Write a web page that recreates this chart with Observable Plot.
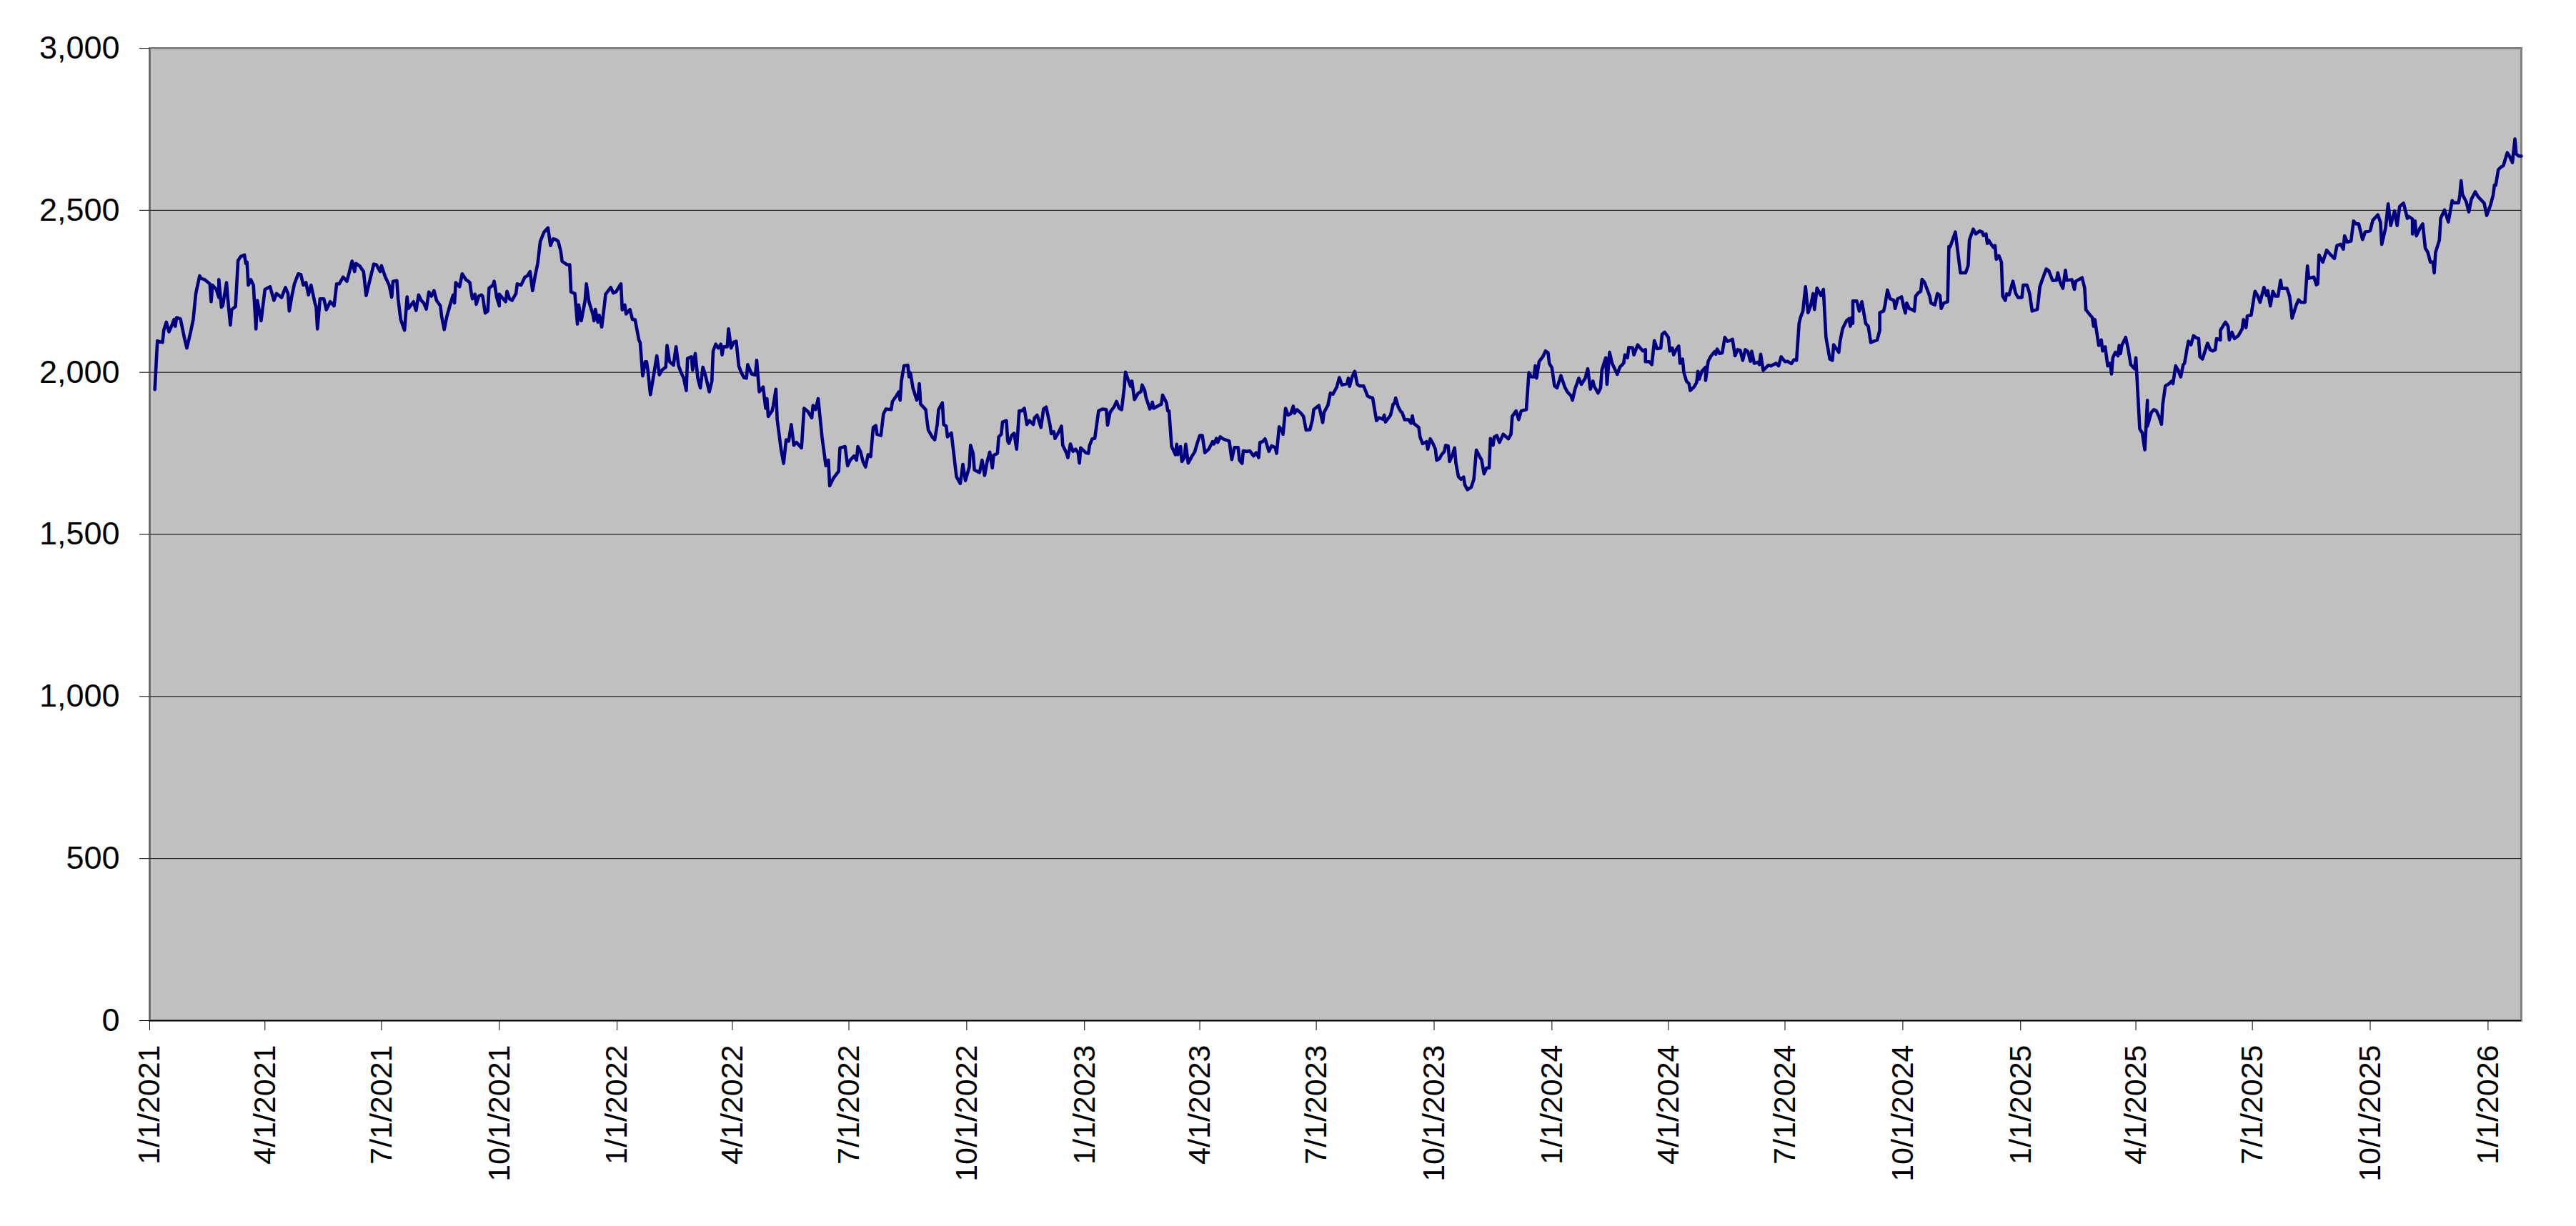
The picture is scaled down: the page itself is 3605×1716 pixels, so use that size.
<!DOCTYPE html>
<html>
<head>
<meta charset="utf-8">
<script src="https://cdn.jsdelivr.net/npm/d3@7"></script>
<script src="https://cdn.jsdelivr.net/npm/@observablehq/plot@0.6"></script>
<style>
  html, body { margin: 0; padding: 0; background: #ffffff; }
  #chart { width: 3605px; height: 1716px; }
</style>
</head>
<body>
<div id="chart"></div>
<script>
// Series: [days since 1/1/2021, value], one array per year
const s2021 = [[4,1947],[6,2097],[10,2092],[11,2130],[13,2155],[15,2125],[17,2142],[19,2163],[20,2142],[21,2169],[24,2165],[27,2108],[29,2075],[32,2125],[34,2163],[36,2243],[39,2298],[40,2290],[43,2286],[47,2273],[48,2218],[49,2269],[52,2256],[54,2231],[54,2286],[56,2201],[57,2205],[60,2277],[61,2227],[63,2146],[64,2193],[67,2203],[69,2345],[71,2357],[74,2362],[75,2336],[76,2340],[77,2269],[79,2286],[81,2269],[83,2134],[84,2222],[87,2159],[90,2256],[94,2264],[97,2222],[99,2243],[103,2231],[106,2262],[108,2243],[109,2189],[111,2235],[113,2273],[116,2304],[118,2302],[120,2269],[122,2277],[124,2239],[126,2269],[129,2214],[130,2201],[131,2134],[133,2227],[136,2227],[138,2193],[141,2218],[144,2205],[146,2273],[148,2273],[151,2294],[154,2281],[156,2311],[158,2343],[160,2311],[161,2336],[164,2328],[167,2311],[169,2237],[172,2286],[175,2334],[177,2332],[180,2311],[181,2329],[184,2294],[187,2269],[189,2232],[190,2281],[193,2283],[194,2227],[196,2163],[199,2130],[201,2233],[202,2197],[206,2218],[208,2191],[210,2239],[212,2222],[214,2214],[216,2195],[218,2248],[220,2235],[222,2252],[224,2222],[227,2205],[228,2172],[230,2132],[232,2172],[235,2214],[237,2239],[238,2214],[239,2277],[242,2264],[244,2304],[247,2286],[250,2277],[251,2248],[252,2227],[254,2241],[255,2210],[257,2235],[259,2239],[260,2235],[262,2183],[264,2189],[265,2260],[268,2269],[269,2281],[271,2231],[273,2205],[273,2241],[276,2227],[278,2218],[279,2250],[281,2227],[283,2222],[286,2243],[287,2273],[290,2269],[293,2294],[295,2298],[297,2311],[299,2252],[301,2298],[303,2336],[305,2404],[308,2433],[311,2446],[313,2391],[315,2412],[317,2410],[319,2404],[321,2374],[322,2343],[326,2332],[328,2332],[329,2248],[332,2243],[334,2149],[335,2208],[337,2159],[340,2222],[341,2273],[343,2218],[346,2180],[347,2159],[348,2194],[350,2155],[351,2176],[353,2140],[355,2205],[356,2241],[360,2262],[362,2245],[364,2248]];
const s2022 = [[368,2273],[369,2193],[371,2208],[372,2180],[375,2194],[377,2163],[379,2163],[382,2100],[383,2092],[385,1989],[387,2033],[388,2033],[389,2007],[391,1931],[393,1978],[396,2051],[398,1992],[400,2007],[403,2016],[404,2083],[406,2033],[409,2022],[411,2079],[413,2020],[415,1999],[417,1982],[419,1944],[420,2043],[423,2048],[424,2007],[426,2058],[428,1982],[430,1952],[432,2016],[434,1990],[437,1940],[439,1973],[440,2066],[442,2087],[444,2075],[446,2087],[447,2054],[448,2079],[451,2079],[452,2134],[454,2075],[456,2093],[458,2096],[460,2020],[462,1999],[464,1984],[466,1982],[467,2024],[470,1995],[473,1992],[474,2037],[476,1940],[479,1955],[481,1889],[482,1919],[483,1864],[486,1881],[487,1898],[489,1948],[490,1855],[493,1763],[495,1719],[497,1792],[499,1788],[501,1839],[503,1775],[505,1784],[509,1767],[511,1889],[514,1879],[517,1860],[518,1898],[520,1885],[522,1919],[525,1801],[528,1712],[530,1729],[531,1650],[534,1674],[538,1695],[539,1767],[543,1771],[545,1712],[547,1729],[550,1742],[552,1729],[553,1771],[555,1756],[557,1725],[559,1708],[561,1746],[563,1740],[565,1830],[567,1836],[568,1809],[571,1805],[573,1872],[575,1887],[579,1885],[580,1910],[583,1927],[585,1940],[586,1914],[587,1973],[589,2020],[592,2022],[593,1986],[594,1999],[596,1952],[599,1914],[600,1923],[601,1965],[602,1902],[606,1885],[607,1851],[608,1822],[611,1801],[613,1792],[615,1839],[616,1885],[619,1906],[620,1839],[622,1834],[623,1801],[626,1813],[628,1746],[630,1678],[633,1657],[635,1716],[637,1666],[640,1708],[641,1775],[643,1750],[644,1699],[648,1691],[650,1729],[652,1682],[654,1725],[656,1754],[658,1705],[659,1744],[662,1750],[663,1801],[665,1809],[666,1847],[669,1851],[670,1788],[671,1781],[673,1805],[675,1812],[677,1763],[679,1881],[681,1881],[683,1889],[685,1839],[687,1851],[690,1839],[691,1860],[693,1868],[696,1830],[698,1887],[700,1893],[703,1839],[704,1811],[706,1817],[707,1796],[710,1817],[712,1834],[713,1775],[716,1750],[717,1737],[719,1779],[721,1756],[723,1763],[725,1752],[726,1720],[727,1767]];
const s2023 = [[731,1752],[733,1750],[734,1775],[736,1795],[738,1796],[741,1881],[744,1887],[747,1885],[748,1837],[750,1877],[753,1893],[755,1910],[757,1889],[759,1885],[761,1952],[762,2001],[764,1978],[766,1957],[767,1973],[769,1916],[772,1936],[774,1940],[775,1961],[777,1944],[778,1923],[781,1887],[782,1893],[783,1908],[784,1889],[790,1902],[791,1930],[794,1906],[795,1881],[796,1881],[798,1771],[801,1746],[802,1778],[803,1746],[805,1771],[806,1725],[808,1737],[809,1778],[811,1720],[814,1742],[816,1754],[818,1781],[820,1805],[822,1805],[824,1752],[827,1763],[830,1786],[831,1779],[833,1796],[834,1784],[836,1801],[838,1795],[840,1792],[843,1788],[845,1731],[847,1768],[850,1768],[851,1729],[853,1719],[854,1758],[857,1756],[859,1758],[862,1742],[864,1752],[866,1737],[867,1784],[869,1786],[871,1795],[874,1756],[876,1773],[879,1768],[880,1750],[882,1832],[884,1822],[885,1809],[887,1889],[889,1868],[891,1872],[893,1896],[894,1874],[896,1885],[899,1874],[901,1864],[903,1822],[906,1823],[908,1854],[909,1885],[913,1898],[914,1881],[916,1845],[917,1876],[920,1898],[922,1936],[924,1933],[927,1955],[929,1984],[931,1961],[935,1965],[936,1982],[937,1957],[939,1986],[941,2003],[943,1963],[945,1958],[948,1958],[951,1927],[953,1923],[955,1921],[958,1851],[960,1860],[963,1855],[964,1868],[965,1847],[969,1868],[971,1902],[972,1904],[973,1921],[975,1893],[977,1879],[978,1876],[980,1854],[983,1854],[985,1843],[986,1866],[987,1843],[991,1830],[992,1801],[994,1780],[997,1786],[998,1763],[1000,1795],[1002,1781],[1004,1763],[1005,1729],[1007,1733],[1009,1747],[1011,1756],[1012,1775],[1014,1773],[1015,1725],[1017,1742],[1019,1767],[1020,1720],[1022,1678],[1024,1670],[1026,1677],[1027,1653],[1029,1638],[1032,1646],[1034,1670],[1036,1760],[1039,1737],[1040,1731],[1042,1687],[1044,1705],[1046,1705],[1047,1796],[1049,1775],[1050,1801],[1052,1805],[1054,1784],[1057,1809],[1061,1795],[1063,1809],[1064,1864],[1067,1881],[1069,1854],[1071,1881],[1075,1885],[1077,1999],[1079,1986],[1081,1986],[1082,2020],[1083,1982],[1085,2033],[1088,2049],[1090,2066],[1092,2060],[1093,2027]];
const s2024 = [[1095,2014],[1097,1958],[1099,1952],[1102,1990],[1105,1955],[1107,1940],[1110,1927],[1111,1914],[1113,1948],[1116,1982],[1118,1963],[1121,1982],[1123,2011],[1125,1948],[1127,1973],[1128,1957],[1131,1936],[1133,1952],[1134,2007],[1137,2045],[1138,1963],[1140,2062],[1142,2028],[1146,1994],[1148,2016],[1151,2028],[1152,2054],[1154,2045],[1155,2077],[1158,2076],[1159,2054],[1162,2085],[1164,2075],[1166,2066],[1168,2070],[1168,2033],[1171,2033],[1173,2024],[1175,2098],[1177,2073],[1180,2075],[1181,2117],[1183,2124],[1186,2107],[1187,2066],[1189,2075],[1190,2054],[1192,2070],[1194,2081],[1195,2028],[1197,2041],[1198,2000],[1200,1973],[1202,1965],[1203,1944],[1206,1955],[1208,1969],[1209,2003],[1210,1979],[1212,2003],[1215,2016],[1215,1975],[1217,2034],[1219,2049],[1222,2064],[1223,2056],[1224,2072],[1226,2058],[1228,2060],[1230,2108],[1232,2096],[1234,2098],[1236,2102],[1238,2051],[1240,2070],[1242,2068],[1244,2037],[1246,2070],[1248,2064],[1250,2034],[1251,2065],[1253,2028],[1256,2031],[1257,2024],[1258,2056],[1260,2006],[1264,2022],[1266,2020],[1270,2028],[1272,2020],[1274,2048],[1277,2033],[1279,2034],[1282,2027],[1284,2039],[1286,2037],[1288,2151],[1289,2168],[1291,2189],[1293,2264],[1295,2184],[1297,2205],[1299,2243],[1300,2194],[1302,2260],[1305,2237],[1307,2256],[1309,2108],[1312,2041],[1314,2037],[1315,2085],[1319,2062],[1320,2096],[1322,2135],[1325,2159],[1327,2166],[1328,2142],[1329,2169],[1330,2151],[1330,2220],[1333,2220],[1335,2189],[1337,2218],[1340,2151],[1342,2142],[1344,2092],[1347,2097],[1349,2100],[1351,2130],[1351,2184],[1354,2189],[1355,2205],[1357,2254],[1359,2227],[1362,2222],[1363,2197],[1365,2227],[1368,2233],[1370,2197],[1371,2183],[1372,2214],[1374,2197],[1376,2194],[1378,2189],[1379,2235],[1381,2245],[1383,2250],[1384,2287],[1386,2277],[1390,2235],[1391,2214],[1394,2208],[1396,2243],[1398,2237],[1399,2197],[1401,2214],[1404,2218],[1405,2388],[1406,2387],[1410,2433],[1414,2307],[1418,2307],[1420,2329],[1421,2408],[1424,2442],[1426,2427],[1429,2436],[1431,2433],[1432,2422],[1434,2427],[1435,2398],[1436,2408],[1438,2395],[1440,2385],[1441,2391],[1442,2349],[1444,2360],[1446,2340],[1447,2235],[1449,2222],[1450,2242],[1452,2239],[1455,2281],[1457,2245],[1459,2231]];
const s2025 = [[1462,2231],[1463,2269],[1466,2269],[1468,2243],[1470,2189],[1474,2194],[1475,2227],[1476,2264],[1478,2287],[1481,2319],[1483,2313],[1486,2283],[1489,2284],[1490,2307],[1492,2277],[1494,2259],[1496,2315],[1497,2284],[1501,2286],[1503,2256],[1504,2281],[1509,2292],[1511,2260],[1512,2193],[1515,2178],[1517,2169],[1518,2142],[1519,2163],[1520,2135],[1522,2083],[1524,2100],[1525,2066],[1527,2079],[1529,2020],[1531,2028],[1532,1995],[1533,2045],[1535,2062],[1537,2051],[1538,2083],[1539,2058],[1540,2083],[1543,2108],[1545,2072],[1547,2024],[1550,2011],[1551,2045],[1552,1973],[1554,1826],[1556,1813],[1558,1761],[1560,1914],[1560,1834],[1563,1876],[1565,1885],[1567,1881],[1569,1864],[1571,1840],[1572,1902],[1574,1958],[1577,1965],[1579,1973],[1580,1965],[1582,2020],[1584,2007],[1586,1986],[1588,2024],[1589,2028],[1592,2096],[1594,2085],[1596,2113],[1598,2107],[1600,2104],[1601,2048],[1603,2041],[1605,2066],[1607,2090],[1609,2070],[1611,2066],[1613,2070],[1614,2104],[1617,2100],[1617,2130],[1621,2155],[1623,2142],[1624,2100],[1626,2124],[1628,2104],[1631,2113],[1634,2134],[1635,2163],[1637,2138],[1638,2174],[1641,2176],[1644,2250],[1646,2237],[1648,2216],[1651,2262],[1653,2237],[1654,2252],[1656,2205],[1658,2250],[1660,2235],[1662,2235],[1664,2284],[1665,2259],[1669,2259],[1671,2235],[1672,2205],[1673,2167],[1676,2205],[1678,2224],[1680,2216],[1683,2216],[1685,2328],[1686,2290],[1690,2294],[1692,2270],[1693,2273],[1694,2362],[1697,2340],[1700,2377],[1703,2363],[1706,2351],[1708,2391],[1711,2395],[1713,2380],[1714,2421],[1716,2402],[1719,2405],[1721,2467],[1723,2458],[1725,2458],[1728,2410],[1730,2433],[1734,2437],[1736,2469],[1740,2486],[1742,2463],[1743,2395],[1746,2446],[1748,2520],[1750,2453],[1753,2498],[1755,2453],[1757,2512],[1760,2522],[1763,2475],[1764,2481],[1767,2473],[1767,2427],[1769,2467],[1770,2421],[1773,2446],[1775,2458],[1777,2383],[1779,2370],[1781,2340],[1783,2340],[1784,2307],[1785,2370],[1788,2408],[1789,2475],[1792,2501],[1795,2464],[1798,2530],[1799,2523],[1803,2523],[1804,2547],[1805,2591],[1806,2549],[1809,2526],[1811,2495],[1813,2534],[1816,2557],[1818,2543],[1823,2522],[1825,2484]];
const s2026 = [[1828,2517],[1830,2547],[1831,2578],[1832,2577],[1834,2625],[1836,2633],[1838,2638],[1841,2678],[1843,2665],[1845,2647],[1847,2720],[1848,2674],[1850,2667],[1852,2667]];

const yTicks = [0, 500, 1000, 1500, 2000, 2500, 3000];
const xTickLabels = ["1/1/2021","4/1/2021","7/1/2021","10/1/2021","1/1/2022","4/1/2022","7/1/2022","10/1/2022","1/1/2023","4/1/2023","7/1/2023","10/1/2023","1/1/2024","4/1/2024","7/1/2024","10/1/2024","1/1/2025","4/1/2025","7/1/2025","10/1/2025","1/1/2026"];

const base = Date.UTC(2021, 0, 1);
const series = [].concat(s2021, s2022, s2023, s2024, s2025, s2026)
  .map(([d, v]) => ({date: new Date(base + d * 864e5), value: v}));

const parseMDY = s => { const [m, d, y] = s.split("/").map(Number); return new Date(Date.UTC(y, m - 1, d)); };
const xTicks = xTickLabels.map(parseMDY);
const labelOf = new Map(xTicks.map((t, i) => [+t, xTickLabels[i]]));
const xStart = xTicks[0];
const xEnd = series[series.length - 1].date;

const chart = Plot.plot({
  width: 3605,
  height: 1716,
  marginLeft: 209,
  marginRight: 77,
  marginTop: 67,
  marginBottom: 288,
  style: {fontFamily: "'Liberation Sans', Arial, sans-serif", fontSize: "45px", background: "#ffffff", color: "#000000", overflow: "visible"},
  x: {type: "utc", domain: [xStart, xEnd]},
  y: {domain: [0, 3000]},
  marks: [
    Plot.frame({fill: "#C0C0C0", stroke: "#808080", strokeWidth: 3}),
    Plot.ruleY(yTicks.filter(t => t > 0 && t < 3000), {stroke: "#000000", strokeWidth: 1}),
    Plot.line(series, {x: "date", y: "value", stroke: "#000080", strokeWidth: 4.6, strokeLinejoin: "round", strokeLinecap: "round"}),
    Plot.ruleY([0], {stroke: "#000000", strokeWidth: 1.5}),
    Plot.ruleX([xStart], {stroke: "#606060", strokeWidth: 1.5}),
    Plot.axisY({ticks: yTicks, tickSize: 14, tickPadding: 28, tickFormat: d3.format(","), label: null, fontSize: 45, stroke: "#000"}),
    Plot.axisX({ticks: xTicks, tickSize: 14, tickPadding: 20, tickRotate: -90, tickFormat: d => labelOf.get(+d), label: null, fontSize: 43, stroke: "#000"})
  ]
});
document.getElementById("chart").appendChild(chart);
</script>
</body>
</html>
